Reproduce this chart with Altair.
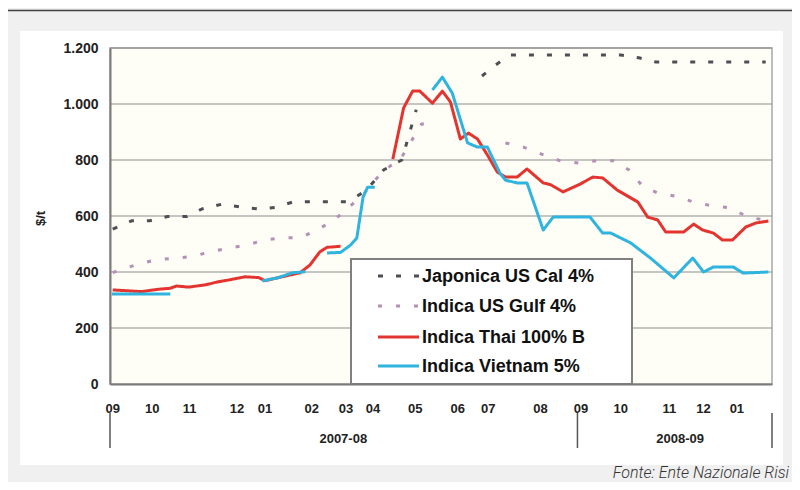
import altair as alt
import pandas as pd

# ---------------- data ----------------
SERIES = ["Japonica US Cal 4%", "Indica US Gulf 4%", "Indica Thai 100% B", "Indica Vietnam 5%"]
COLORS = ["#4e4e55", "#b590b5", "#e3342f", "#2fb4e0"]
DASHES = [[5, 13], [4, 14], [1, 0], [1, 0]]

# x = week index from early September 2007; None marks a break in the line
jap_w = [0.3, 2.4, 4.4, 6.4, 8.5, 10.2, 12.4, 14.4, 16.5, 18.4, 20.4, 22.4, 24.4, 26.4,
         28.4, 30.4, 32.4, 34.0, None, 41.3, 42.8, 44.4, 56.7, 58.7, 60.6, 72.8]
jap_v = [553, 583, 583, 598, 598, 625, 642, 633, 625, 631, 651, 651, 651, 651,
         690, 765, 800, 980, None, 1100, 1139, 1175, 1175, 1165, 1150, 1150]

gulf_w = [0.3, 2.8, 5.0, 7.0, 9.1, 11.1, 13.1, 15.2, 17.1, 19.1, 21.1, 23.0, 24.9, 26.4,
          28.1, 29.2, 30.7, 32.2, 34.6, 36.4, None, 43.9, 45.9, 47.9, 50.0, 52.0, 54.0,
          55.9, 57.8, 59.0, 60.8, 62.8, 64.8, 66.9, 68.9, 70.8, 72.8]
gulf_v = [398, 425, 443, 449, 455, 472, 485, 496, 514, 522, 522, 550, 586, 628,
          675, 721, 770, 800, 929, 925, None, 861, 846, 821, 797, 789, 797,
          797, 761, 711, 682, 671, 650, 636, 629, 596, 585]

thai_w = [0.3, 3.5, 5.3, 6.7, 7.4, 8.7, 10.6, 12.0, 13.1, 15.0, 16.5, 17.2, 19.4, 21.1,
          22.2, 23.3, 24.1, 25.6, None, 31.4, 32.6, 33.6, 34.4, 35.8, 36.9, 37.8, 38.9,
          39.8, 40.8, 41.9, 43.0, 43.9, 45.2, 46.3, 48.1, 48.9, 50.3, 52.2, 53.6, 54.7,
          56.3, 58.6, 59.7, 60.8, 61.7, 63.7, 64.8, 65.8, 67.0, 68.0, 69.1, 70.6, 71.7, 73.1]
thai_v = [336, 330, 338, 342, 350, 346, 354, 365, 371, 383, 380, 369, 385, 397,
          425, 472, 488, 492, None, 803, 986, 1046, 1046, 1003, 1046, 1007, 875,
          896, 875, 818, 757, 739, 739, 768, 718, 712, 686, 714, 739, 736,
          693, 650, 596, 586, 543, 543, 571, 550, 539, 514, 514, 561, 575, 582]

viet_w = [0.2, 3.3, 6.7, None, 16.9, 18.7, 20.2, 21.7, None, 24.1, 25.6, 26.7, 27.4, 28.1,
          28.6, 29.4, None, 35.8, 36.9, 38.0, 39.7, 40.8, 41.9, 43.3, 43.9, 45.2, 46.3,
          48.1, 49.2, 53.3, 54.7, 55.6, 57.8, 60.0, 62.6, 64.7, 65.9, 67.0, 69.2, 70.3, 73.1]
viet_v = [321, 321, 321, None, 368, 380, 397, 401, None, 468, 470, 496, 521, 668,
          703, 703, None, 1050, 1096, 1039, 861, 846, 846, 753, 728, 718, 718,
          550, 596, 596, 539, 539, 504, 450, 379, 450, 400, 418, 418, 396, 400]

Y_TICKS = [0, 200, 400, 600, 800, 1000, 1200]
GRID_VALUES = [200, 400, 600, 800, 1000, 1200]

MONTH_LABELS = ["09", "10", "11", "12", "01", "02", "03", "04", "05", "06", "07", "08",
                "09", "10", "11", "12", "01"]
MONTH_POS = [0.3, 4.7, 8.85, 14.1, 17.2, 22.4, 26.2, 29.2, 33.9, 38.6, 42.0, 47.8,
             52.3, 56.7, 62.1, 65.9, 69.6]
SEASON_LABELS = ["2007-08", "2008-09"]
SEASON_POS = [25.9, 63.3]
SEASON_BOUNDS = [0, 51.9, 73.5]

SOURCE = "Fonte: Ente Nazionale Risi"

# ---------------- build tables ----------------
def rows(name, ws, vs):
    out, seg = [], 0
    for w, v in zip(ws, vs):
        if w is None:
            seg += 1
            continue
        out.append({"series": name, "seg": f"{name}-{seg}", "week": w, "price": v})
    return out

data = pd.DataFrame(rows(SERIES[0], jap_w, jap_v) + rows(SERIES[1], gulf_w, gulf_v)
                    + rows(SERIES[2], thai_w, thai_v) + rows(SERIES[3], viet_w, viet_v))

month_df = pd.DataFrame({"mlabel": MONTH_LABELS, "week": MONTH_POS})

W, H = 662, 336
FONT = "Liberation Sans, Arial, sans-serif"

xscale = alt.Scale(domain=[0, 73.5], nice=False, zero=False)
yscale = alt.Scale(domain=[0, 1200], nice=False)

x_axis = alt.Axis(title=None, labels=False, ticks=False, grid=False,
                  domainColor="#7a7a7a", domainWidth=2, zindex=1)
y_axis = alt.Axis(title="$/t", values=Y_TICKS, grid=False, ticks=False,
                  labelPadding=12, labelFont=FONT, labelFontSize=14,
                  labelFontWeight="bold", labelColor="#222",
                  labelExpr="replace(format(datum.value, ','), ',', '.')",
                  domainColor="#7a7a7a", domainWidth=2, zindex=1,
                  titleX=-63, titleY=170, titleFont=FONT, titleFontSize=13,
                  titleFontWeight="bold", titleColor="#222")

x_enc = alt.X("week:Q", scale=xscale, axis=x_axis)
y_enc = alt.Y("price:Q", scale=yscale, axis=y_axis)

color_enc = alt.Color("series:N", scale=alt.Scale(domain=SERIES, range=COLORS), legend=None)
dash_enc = alt.StrokeDash("series:N", scale=alt.Scale(domain=SERIES, range=DASHES), legend=None)

one = pd.DataFrame({"a": [0]})

# ---------------- decoration ----------------
top_line = alt.Chart(one).mark_rule(color="#404040", strokeWidth=1.5).encode(
    x=alt.value(-102), x2=alt.value(682), y=alt.value(-37.5))
panel = alt.Chart(one).mark_rect(fill="white").encode(
    x=alt.value(-90), x2=alt.value(673), y=alt.value(-17), y2=alt.value(417))
plot_bg = alt.Chart(one).mark_rect(fill="#fefef6", stroke="#a8a8a8", strokeWidth=1.5).encode(
    x=alt.value(0), x2=alt.value(W), y=alt.value(0), y2=alt.value(H))
grid = alt.Chart(pd.DataFrame({"price": GRID_VALUES})).mark_rule(
    color="#8c8c8c", strokeWidth=1.2).encode(y=y_enc)

lines = []
for s in SERIES:
    lines.append(
        alt.Chart(data).transform_filter(alt.datum.series == s)
        .mark_line(strokeWidth=3, strokeCap="butt", strokeJoin="round")
        .encode(x=x_enc, y=y_enc, color=color_enc, strokeDash=dash_enc, detail="seg:N")
    )

# ---------------- legend box (drawn by hand, placed inside the plot) ----------------
LEG_X, LEG_Y, LEG_W, LEG_H = 241, 211, 281, 125
ROW_Y = [228, 258, 289, 318]
legend_box = alt.Chart(one).mark_rect(fill="white", stroke="#808080", strokeWidth=2).encode(
    x=alt.value(LEG_X), x2=alt.value(LEG_X + LEG_W), y=alt.value(LEG_Y), y2=alt.value(LEG_Y + LEG_H))
legend_items = []
for i, s in enumerate(SERIES):
    legend_items.append(alt.Chart(one).mark_rule(
        color=COLORS[i], strokeDash=DASHES[i], strokeWidth=3, strokeCap="butt").encode(
        x=alt.value(LEG_X + 27), x2=alt.value(LEG_X + 68), y=alt.value(ROW_Y[i])))
    legend_items.append(alt.Chart(one).mark_text(
        align="left", baseline="middle", font=FONT, fontSize=18, fontWeight="bold",
        color="#111").encode(x=alt.value(LEG_X + 71), y=alt.value(ROW_Y[i] + 1), text=alt.value(s)))

seasons = alt.Chart(pd.DataFrame({"slabel": SEASON_LABELS, "week": SEASON_POS})).mark_text(
    font=FONT, fontSize=13, fontWeight="bold", color="#222", baseline="middle").encode(
    x=x_enc, y=alt.value(391), text="slabel:N")
seps = alt.Chart(pd.DataFrame({"week": SEASON_BOUNDS})).mark_rule(color="#555", strokeWidth=1.5).encode(
    x=x_enc, y=alt.value(365), y2=alt.value(400))
source = alt.Chart(one).mark_text(
    align="right", baseline="alphabetic", font="Roboto", fontStyle="italic",
    fontWeight=300, fontSize=16, color="#333").encode(
    x=alt.value(679), y=alt.value(430), text=alt.value(SOURCE))
months = alt.Chart(month_df).mark_text(
    font=FONT, fontSize=13, fontWeight="bold", color="#222", baseline="middle").encode(
    x=x_enc, y=alt.value(361), text="mlabel:N")

chart = alt.layer(top_line, panel, plot_bg, grid, *lines, legend_box, *legend_items,
                  seasons, seps, source, months).properties(
    width=W, height=H,
    autosize=alt.AutoSizeParams(type="none"),
    padding={"left": 102, "top": 40, "right": 20, "bottom": 98},
    background="#f0f0f0",
).configure_view(stroke=None)

chart.save("out.html", embed_options={"renderer": "svg", "actions": False})
